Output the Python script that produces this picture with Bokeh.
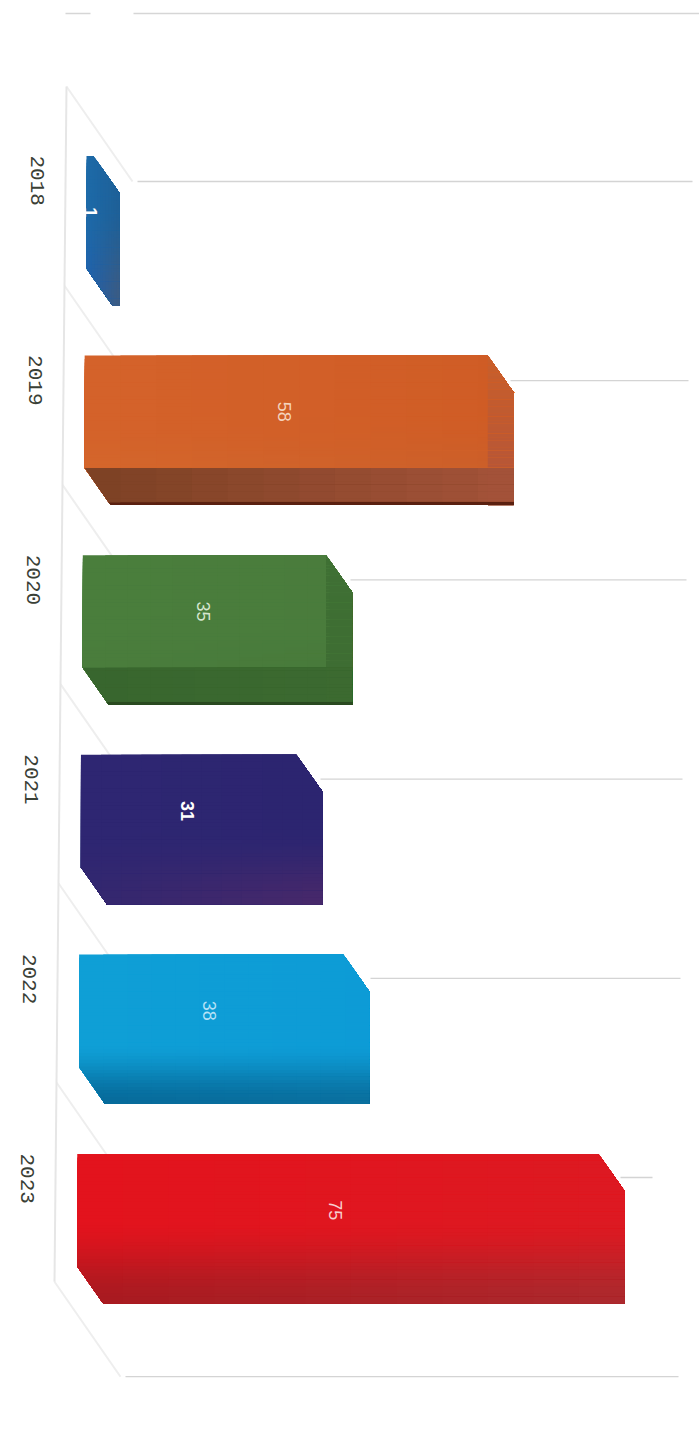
from math import pi
from bokeh.plotting import figure
from bokeh.models import Range1d
from bokeh.core.properties import value
from bokeh.embed import file_html
from bokeh.resources import INLINE

years = [2018, 2019, 2020, 2021, 2022, 2023]
values = [1, 58, 35, 31, 38, 75]
label_colors = ["#ffffff", "#f5d3bd", "#d6e6cf", "#ffffff", "#b5e2f7", "#f7cfcf"]
label_bold = [True, False, False, True, False, False]

# corner colours of each bar
top_left = ["#1d6aa8", "#d4622a", "#4a7e3c", "#2e2672", "#0f9fd6", "#e3131d"]
top_right = ["#1e5f96", "#cf5c25", "#4a7c3c", "#2c2570", "#0d9bd6", "#dc1a22"]
bot_left = ["#2060ad", "#d4692c", "#4a7c3c", "#33276f", "#066a9a", "#a81a20"]
bot_right = ["#3d5b80", "#c8602c", "#46783a", "#48286a", "#0a709f", "#ac2a2e"]
# where the vertical blend starts, as a share of bar height
ramp_start = [0.3, 0.4, 0.4, 0.5, 0.58, 0.42]
# distinct bottom and side faces, where the bar has them
bottom_face_left = [None, "#7e4225", "#38662e", None, None, None]
bottom_face_right = [None, "#a5533a", "#3c6a30", None, None, None]
side_face_top = [None, "#c85f2b", "#3f7034", None, None, None]
side_face_bottom = [None, "#b2533a", "#3d6c32", None, None, None]
rim_color = [None, "#5a2010", "#2a4a20", None, None, None]

W, H = 699, 1443
PXX = 1 / 6.95      # value units per pixel
PXY = 1 / 199.6     # years per pixel
x0 = -86 * PXX
y0 = 2018 - 230 * PXY

p = figure(width=W, height=H, output_backend="svg", toolbar_location=None,
           x_range=Range1d(x0, x0 + W * PXX), y_range=Range1d(y0 + H * PXY, y0),
           min_border=0, outline_line_color=None, background_fill_color="#ffffff")
p.axis.visible = False
p.grid.visible = False

SKEW = -1.85 * PXX  # per year
DX, DY = 26 * PXX, 37 * PXY
TOP, BOT = 74.5 * PXY, 75 * PXY


def skew(y):
    return (y - 2018) * SKEW


def clip(poly, axis, limit):
    out = []
    n = len(poly)
    for i in range(n):
        a, b = poly[i], poly[(i + 1) % n]
        ina, inb = a[axis] >= limit, b[axis] >= limit
        if ina:
            out.append(a)
        if ina != inb:
            t = (limit - a[axis]) / (b[axis] - a[axis])
            out.append((a[0] + t * (b[0] - a[0]), a[1] + t * (b[1] - a[1])))
    return out


def rgb(h):
    return [int(h[i:i + 2], 16) for i in (1, 3, 5)]


def mix(a, b, t):
    return [a[i] + (b[i] - a[i]) * t for i in range(3)]


def hexs(c):
    return "#%02x%02x%02x" % tuple(int(round(q)) for q in c)


# wall lines
grid_ends = [692, 688, 686, 682, 680, 652, 678]
grid_starts = [137, 510, 350, 320, 370, 620, 125]
gy = [2018 + i * 199.2 * PXY - 49 * PXY for i in range(7)]
p.segment([(s - 86) * PXX for s in grid_starts], gy,
          [(e - 86) * PXX for e in grid_ends], gy, line_color="#d4d4d4", line_width=1.3)

# floor diagonals and axis
dxa = [(-20 - 2.0 * i) * PXX for i in range(7)]
dya = [y - 95 * PXY for y in gy]
p.segment(dxa, dya, [a + 66 * PXX for a in dxa], gy, line_color="#eeeeee", line_width=2)
p.line([dxa[0], dxa[-1]], [dya[0], dya[-1]], line_color="#e6e6e6", line_width=2)

# top rule
top_y = y0 + 13 * PXY
p.segment([x0 + 133 * PXX, x0 + 65 * PXX], [top_y, top_y],
          [x0 + W * PXX, x0 + 90 * PXX], [top_y, top_y], line_color="#d6d6d6", line_width=1.3)

# bars: nested opaque clips, drawn in row-then-column order, give a seamless blend
xs, ys, cols = [], [], []
for k, (yr, v) in enumerate(zip(years, values)):
    L = skew(yr)
    t, b = yr - TOP, yr + BOT
    right = L + v + DX
    hexa = [(L, t), (L + v, t), (right, t + DY), (right, b), (L + DX, b), (L, b - DY)]
    hard = bottom_face_left[k] is not None
    ny, nx = 44, 12
    ylim = sorted(set([t + (b - t) * j / ny for j in range(ny)] + ([b - DY, b - 2.5 * PXY] if hard else [])))
    xlim = sorted(set([L + (right - L) * j / nx for j in range(nx)] + ([L + v] if hard else [])))
    for yy in ylim:
        fy = (yy - t) / (b - t)
        rs = ramp_start[k]
        tv = max(0.0, (fy - rs) / (1 - rs))
        tv = tv * tv * (3 - 2 * tv)
        strip = clip(hexa, 1, yy)
        for xx in xlim:
            fx = (xx - L) / (right - L)
            c = mix(mix(rgb(top_left[k]), rgb(top_right[k]), fx),
                    mix(rgb(bot_left[k]), rgb(bot_right[k]), fx), tv)
            if hard:
                if yy >= b - 2.5 * PXY - 1e-9:
                    c = rgb(rim_color[k])
                elif yy >= b - DY - 1e-9:
                    c = mix(rgb(bottom_face_left[k]), rgb(bottom_face_right[k]), fx)
                elif xx >= L + v - 1e-9:
                    c = mix(rgb(side_face_top[k]), rgb(side_face_bottom[k]), fy)
            cell = clip(strip, 0, xx)
            if len(cell) >= 3:
                xs.append([q[0] for q in cell])
                ys.append([q[1] for q in cell])
                cols.append(hexs(c))

p.patches(xs, ys, fill_color=cols, line_color=None)

# year labels
p.text([skew(y) - 49.5 * PXX for y in years], [y - 75 * PXY for y in years],
       text=[str(y) for y in years], angle=-pi / 2,
       text_font=value("Liberation Mono"), text_font_size="21px",
       text_color="#3a4036", text_align="left", text_baseline="middle")

# value labels
for yr, v, c, bold in zip(years, values, label_colors, label_bold):
    p.text([skew(yr) + v * 0.495 + (0.6 * PXX if v == 1 else 0)], [yr - (TOP - (TOP + BOT - DY) / 2)],
           text=[str(v)], angle=-pi / 2, text_font=value("Liberation Sans"),
           text_font_size="18px", text_font_style="bold" if bold else "normal",
           text_color=c, text_align="center", text_baseline="middle")

open("out.html", "w").write(file_html(p, INLINE))
